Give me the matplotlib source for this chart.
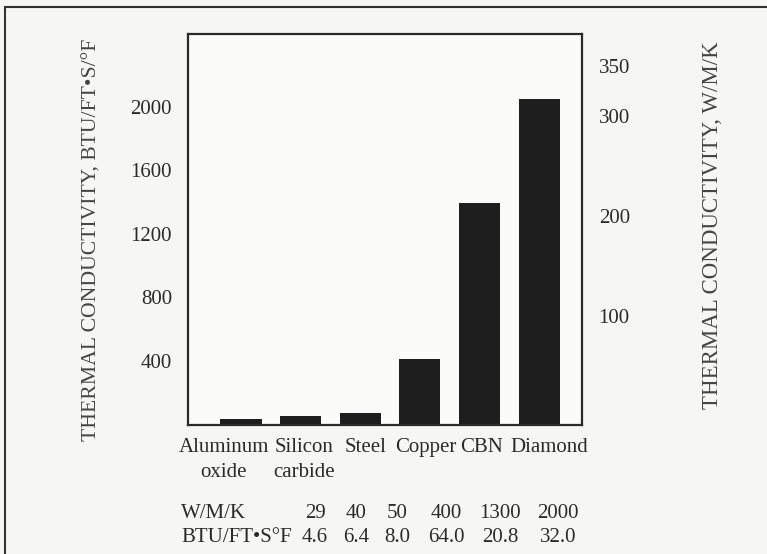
import matplotlib.pyplot as plt
from matplotlib.patches import Rectangle

# data
materials = ['Aluminum\noxide', 'Silicon\ncarbide', 'Steel', 'Copper', 'CBN', 'Diamond']
conductivity = [30, 50, 72, 410, 1390, 2050]
left_ticks = [400, 800, 1200, 1600, 2000]
right_ticks = [100, 200, 300, 350]
row_wmk = ['29', '40', '50', '400', '1300', '2000']
row_btu = ['4.6', '6.4', '8.0', '64.0', '20.8', '32.0']

W, H = 767, 554
ink = '#2a2a2a'
plt.rcParams['font.family'] = ['Liberation Serif', 'DejaVu Serif']

fig = plt.figure(figsize=(W / 100, H / 100), dpi=100, facecolor='#f6f6f4')

def px(x, y):
    # pixel position (from top-left) -> figure fraction
    return x / W, 1 - y / H

ax = fig.add_axes([188 / W, 1 - 425 / H, 394 / W, (425 - 33.6) / H])
ax.set_facecolor('#fbfbfa')
xs = list(range(len(materials)))
ax.bar(xs, conductivity, width=0.69, color='#1e1e1e')
ax.set_xlim(-0.89, 5.72)
ax.set_ylim(-5, 2460)
ax.set_xticks(xs)
ax.set_xticklabels([])
ax.set_yticks(left_ticks)
ax.set_yticklabels([str(t) for t in left_ticks])
ax.tick_params(axis='both', length=0, labelsize=15, colors=ink, pad=11.5)
for s in ax.spines.values():
    s.set_linewidth(1.6)
    s.set_color(ink)

ax2 = ax.twinx()
ax2.set_ylim(-9, 382)
ax2.set_yticks(right_ticks)
ax2.set_yticklabels([str(t) for t in right_ticks])
ax2.tick_params(axis='y', length=0, labelsize=15, colors=ink, pad=12)
for s in ax2.spines.values():
    s.set_visible(False)

# category labels (packed tightly, slightly off the bar centres like the original)
label_x = [224, 304, 366, 426, 482, 549]
for name, lx in zip(materials, label_x):
    fig.text(*px(lx, 438), name, ha='center', va='top', fontsize=15,
             color=ink, linespacing=1.4)

# unit table under the chart
col_x = [315, 356, 397, 446, 500, 558]
fig.text(*px(181, 513), 'W/M/K', ha='left', va='center', fontsize=15, color=ink)
fig.text(*px(181, 537), 'BTU/FT\u2022S\u00b0F', ha='left', va='center', fontsize=15, color=ink)
for cx, a, b in zip(col_x, row_wmk, row_btu):
    fig.text(*px(cx, 513), a, ha='center', va='center', fontsize=15, color=ink)
    fig.text(*px(cx, 537), b, ha='center', va='center', fontsize=15, color=ink)

# axis titles
fig.text(*px(92, 240), 'THERMAL CONDUCTIVITY, BTU/FT\u2022S/\u00b0F', rotation=90,
         ha='center', va='center', fontsize=15.6, color='#444444')
fig.text(*px(713, 225), 'THERMAL CONDUCTIVITY, W/M/K', rotation=90,
         ha='center', va='center', fontsize=16.5, color='#444444')

# outer frame of the figure panel
fig.patches.append(Rectangle(px(5, 600), 1.1, (600 - 7) / H, transform=fig.transFigure,
                             fill=False, edgecolor='#333333', linewidth=1.5))

fig.savefig('out.png', dpi=100, facecolor=fig.get_facecolor())
